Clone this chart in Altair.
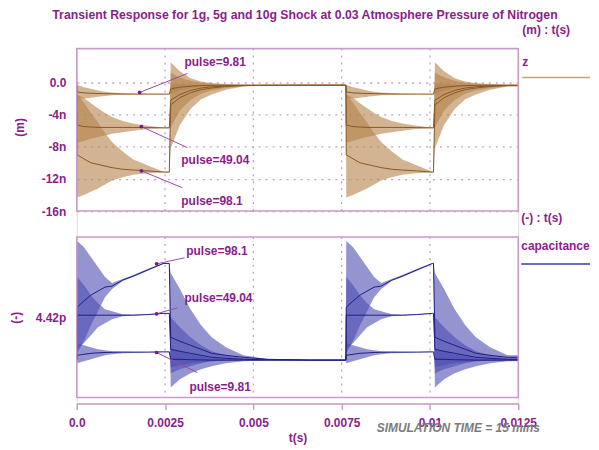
import altair as alt
import pandas as pd

TITLE = "Transient Response for 1g, 5g and 10g Shock at 0.03 Atmosphere Pressure of Nitrogen"
PULSES = ["9.81", "49.04", "98.1"]
X_TICKS = [0.0, 0.0025, 0.005, 0.0075, 0.01, 0.0125]
X_GRID = [0.0025, 0.005, 0.0075, 0.01]
SHOCK_ON = [0.0, 0.00762]
SHOCK_OFF = [0.00262, 0.0101]
T_END = 0.0125

# profile times relative to shock start / release
DEF_T = [0, 0.00001, 0.0002, 0.0004, 0.0006, 0.0008, 0.0010, 0.0013, 0.0016, 0.0020, 0.00245]
REL_T = [0, 0.00004, 0.0003, 0.0006, 0.0009, 0.0012, 0.0016, 0.0021, 0.0028, 0.0040]

# displacement z (n m) : envelope high / low and centre during shock
Z_DEF_HI = {
    "9.81": [-0.35, -0.3, -0.6, -0.8, -1.0, -1.15, -1.25, -1.35, -1.4, -1.43, -1.45],
    "49.04": [-0.35, -1.5, -1.9, -2.6, -3.2, -3.8, -4.3, -4.8, -5.1, -5.4, -5.6],
    "98.1": [-0.35, -1.5, -2.5, -3.8, -5.0, -6.3, -7.4, -8.6, -9.6, -10.3, -11.1],
}
Z_DEF_LO = {
    "9.81": [-0.35, -2.0, -2.0, -1.9, -1.8, -1.7, -1.6, -1.55, -1.5, -1.48, -1.47],
    "49.04": [-0.35, -7.5, -7.3, -7.0, -6.8, -6.6, -6.4, -6.2, -6.0, -5.8, -5.7],
    "98.1": [-0.35, -14.3, -14.0, -13.6, -13.2, -12.7, -12.2, -11.8, -11.5, -11.3, -11.2],
}
Z_DEF_MID = {
    "9.81": [-0.35, -1.2, -1.3, -1.35, -1.38, -1.4, -1.42, -1.44, -1.45, -1.45, -1.46],
    "49.04": [-0.35, -5.3, -5.5, -5.55, -5.6, -5.6, -5.6, -5.6, -5.6, -5.62, -5.65],
    "98.1": [-0.35, -9.0, -9.5, -10.0, -10.2, -10.4, -10.6, -10.8, -10.9, -11.0, -11.15],
}
# displacement z after release
Z_REL_HI = {
    "9.81": [-1.46, -0.1, -0.2, -0.25, -0.3, -0.32, -0.34, -0.35, -0.35, -0.35],
    "49.04": [-5.65, 1.2, 0.6, 0.2, -0.05, -0.15, -0.25, -0.3, -0.34, -0.35],
    "98.1": [-11.15, 2.5, 1.4, 0.5, 0.1, -0.1, -0.2, -0.3, -0.34, -0.35],
}
Z_REL_LO = {
    "9.81": [-1.46, -1.5, -1.0, -0.7, -0.5, -0.42, -0.37, -0.35, -0.35, -0.35],
    "49.04": [-5.65, -5.6, -3.5, -2.2, -1.4, -1.0, -0.7, -0.45, -0.37, -0.35],
    "98.1": [-11.15, -8.2, -5.3, -3.3, -2.1, -1.5, -0.9, -0.5, -0.38, -0.35],
}
Z_REL_MID = {
    "9.81": [-1.46, -0.8, -0.6, -0.47, -0.4, -0.37, -0.355, -0.35, -0.35, -0.35],
    "49.04": [-5.65, -2.2, -1.5, -1.0, -0.7, -0.55, -0.45, -0.38, -0.355, -0.35],
    "98.1": [-11.15, -2.8, -1.9, -1.3, -0.9, -0.7, -0.5, -0.4, -0.36, -0.35],
}

# capacitance (p F) during shock
C_DEF_HI = {
    "9.81": [4.3986, 4.407, 4.406, 4.405, 4.404, 4.4035, 4.403, 4.4028, 4.4027, 4.4027, 4.4028],
    "49.04": [4.3986, 4.440, 4.436, 4.431, 4.427, 4.424, 4.423, 4.4215, 4.4212, 4.4215, 4.422],
    "98.1": [4.3986, 4.458, 4.455, 4.450, 4.445, 4.440, 4.437, 4.439, 4.441, 4.444, 4.447],
}
C_DEF_LO = {
    "9.81": [4.3986, 4.397, 4.398, 4.399, 4.400, 4.401, 4.4015, 4.402, 4.4022, 4.4025, 4.4026],
    "49.04": [4.3986, 4.404, 4.407, 4.411, 4.415, 4.417, 4.419, 4.4205, 4.4208, 4.4212, 4.4218],
    "98.1": [4.3986, 4.402, 4.408, 4.416, 4.423, 4.430, 4.434, 4.438, 4.440, 4.443, 4.4465],
}
C_DEF_MID = {
    "9.81": [4.3986, 4.401, 4.4015, 4.402, 4.4022, 4.4024, 4.4025, 4.4026, 4.4026, 4.4026, 4.4027],
    "49.04": [4.3986, 4.421, 4.421, 4.421, 4.421, 4.421, 4.421, 4.421, 4.421, 4.4213, 4.4219],
    "98.1": [4.3986, 4.425, 4.428, 4.431, 4.433, 4.435, 4.4355, 4.4385, 4.4405, 4.4435, 4.4468],
}
# capacitance after release
C_REL_HI = {
    "9.81": [4.4027, 4.404, 4.403, 4.4015, 4.4005, 4.3995, 4.399, 4.3987, 4.3986, 4.3986],
    "49.04": [4.4219, 4.420, 4.415, 4.410, 4.406, 4.403, 4.401, 4.3995, 4.399, 4.3986],
    "98.1": [4.4468, 4.442, 4.434, 4.424, 4.416, 4.410, 4.405, 4.401, 4.399, 4.3986],
}
C_REL_LO = {
    "9.81": [4.4027, 4.395, 4.396, 4.397, 4.3975, 4.398, 4.3984, 4.3985, 4.3986, 4.3986],
    "49.04": [4.4219, 4.392, 4.394, 4.3955, 4.397, 4.398, 4.3983, 4.3985, 4.3985, 4.3986],
    "98.1": [4.4468, 4.385, 4.389, 4.392, 4.394, 4.3955, 4.397, 4.398, 4.3985, 4.3986],
}
C_REL_MID = {
    "9.81": [4.4027, 4.399, 4.399, 4.3988, 4.3987, 4.3986, 4.3986, 4.3986, 4.3986, 4.3986],
    "49.04": [4.4219, 4.404, 4.403, 4.402, 4.401, 4.400, 4.3995, 4.399, 4.3987, 4.3986],
    "98.1": [4.4468, 4.410, 4.408, 4.406, 4.404, 4.402, 4.401, 4.400, 4.399, 4.3986],
}

# annotations: label, text position (t, value), arrow from (t, value) to (t, value)
Z_NOTE_TEXT = ["pulse=9.81", "pulse=49.04", "pulse=98.1"]
Z_NOTE_T = [0.00305, 0.00296, 0.00296]
Z_NOTE_V = [2.1, -10.1, -15.2]
Z_ARROW_T0 = [0.00313, 0.00313, 0.00299]
Z_ARROW_V0 = [1.1, -8.1, -13.1]
Z_ARROW_T1 = [0.00178, 0.00183, 0.00183]
Z_ARROW_V1 = [-1.25, -5.5, -11.0]

C_NOTE_TEXT = ["pulse=98.1", "pulse=49.04", "pulse=9.81"]
C_NOTE_T = [0.0031, 0.00305, 0.00319]
C_NOTE_V = [4.451, 4.4277, 4.383]
C_ARROW_T0 = [0.00305, 0.00285, 0.00341]
C_ARROW_V0 = [4.4496, 4.4247, 4.3924]
C_ARROW_T1 = [0.00226, 0.00226, 0.00226]
C_ARROW_V1 = [4.4466, 4.4217, 4.4024]

# ---------------------------------------------------------------- styling
FONT = "Liberation Sans"
PURPLE = "#8b1c8b"
FRAME = "#c79bc9"
GRID = "#c7a0c7"
BROWN_FILL = "#b4824a"
BROWN_LINE = "#8a5726"
BLUE_FILL = "#4d4db0"
BLUE_LINE = "#1e1e86"
W, H = 443, 356
TOP_Y0, TOP_Y1 = 0, 163
BOT_Y0, BOT_Y1 = 189, 350


def build(def_hi, def_lo, def_mid, rel_hi, rel_lo, rel_mid):
    rows = []
    ends = SHOCK_ON[1:] + [T_END]
    for on, off, nxt in zip(SHOCK_ON, SHOCK_OFF, ends):
        for rt, h, l, m in zip(DEF_T, def_hi, def_lo, def_mid):
            rows.append((on + rt, h, l, m))
        rows.append((off, def_hi[-1], def_lo[-1], def_mid[-1]))
        for rt, h, l, m in zip(REL_T, rel_hi, rel_lo, rel_mid):
            if off + rt <= nxt:
                rows.append((off + rt, h, l, m))
        last = rows[-1]
        rows.append((nxt, last[1], last[2], last[3]))
    return rows


def frame(series_hi, series_lo, series_mid, rser_hi, rser_lo, rser_mid):
    recs = []
    for p in PULSES:
        rows = build(series_hi[p], series_lo[p], series_mid[p], rser_hi[p], rser_lo[p], rser_mid[p])
        for i, (t, h, l, m) in enumerate(rows):
            recs.append({"pulse": p, "i": i, "t": t, "hi": h, "lo": l, "mid": m})
    return pd.DataFrame(recs)


z_df = frame(Z_DEF_HI, Z_DEF_LO, Z_DEF_MID, Z_REL_HI, Z_REL_LO, Z_REL_MID)
c_df = frame(C_DEF_HI, C_DEF_LO, C_DEF_MID, C_REL_HI, C_REL_LO, C_REL_MID)

X_SCALE = alt.Scale(domain=[0, 0.0125], nice=False, zero=False)
X_AXIS = alt.Axis(
    values=X_TICKS, labelExpr="datum.value == 0 ? '0.0' : '' + datum.value",
    title="t(s)", grid=False, domainColor=FRAME, domainWidth=1.5, tickColor=FRAME,
    tickWidth=1.5, tickSize=6, labelPadding=8, labelFlush=False, labelFont=FONT,
    labelFontSize=12, labelFontWeight="bold", labelColor=PURPLE, titleFont=FONT,
    titleFontSize=12, titleFontWeight="bold", titleColor=PURPLE, titlePadding=4,
)
X = alt.X("t:Q", scale=X_SCALE, axis=X_AXIS)

Z_SCALE = alt.Scale(domain=[-16, 4.2], range=[TOP_Y1, TOP_Y0], nice=False, zero=False)
C_SCALE = alt.Scale(domain=[4.38, 4.46], range=[BOT_Y1, BOT_Y0], nice=False, zero=False)

Y_AXIS_COMMON = dict(
    orient="left", offset=0, domain=False, ticks=False, labelPadding=11,
    labelFont=FONT, labelFontSize=12, labelFontWeight="bold", labelColor=PURPLE,
    gridColor=GRID, gridDash=[2, 5], gridWidth=1.3, title=None,
)
Z_AXIS = alt.Axis(values=[0, -4, -8, -12, -16],
                  labelExpr="datum.value == 0 ? '0.0' : datum.value + 'n'", **Y_AXIS_COMMON)
C_AXIS = alt.Axis(values=[4.40, 4.42, 4.44],
                  labelExpr="datum.value == 4.42 ? '4.42p' : ''", **Y_AXIS_COMMON)

one = pd.DataFrame({"k": [0]})
grid_df = pd.DataFrame({"t": X_GRID})

layers = []

# vertical grid lines per panel
for y0, y1 in [(TOP_Y0, TOP_Y1), (BOT_Y0, BOT_Y1)]:
    layers.append(alt.Chart(grid_df).mark_rule(color=GRID, strokeDash=[2, 5], strokeWidth=1.3).encode(
        x=X, y=alt.value(y0), y2=alt.value(y1)))

# z panel
layers.append(alt.Chart(z_df).mark_area(color=BROWN_FILL, fillOpacity=0.6, orient="vertical").encode(
    x=X, y=alt.Y("lo:Q", scale=Z_SCALE, axis=Z_AXIS, stack=None), y2=alt.Y2("hi:Q"),
    detail="pulse:N"))
layers.append(alt.Chart(z_df).mark_line(color=BROWN_LINE, strokeWidth=1).encode(
    x=X, y=alt.Y("mid:Q", scale=Z_SCALE, axis=None), detail="pulse:N", order="i:Q"))

# capacitance panel
layers.append(alt.Chart(c_df).mark_area(color=BLUE_FILL, fillOpacity=0.6, orient="vertical").encode(
    x=X, y=alt.Y("lo:Q", scale=C_SCALE, axis=C_AXIS, stack=None), y2=alt.Y2("hi:Q"),
    detail="pulse:N"))
layers.append(alt.Chart(c_df).mark_line(color=BLUE_LINE, strokeWidth=1).encode(
    x=X, y=alt.Y("mid:Q", scale=C_SCALE, axis=None), detail="pulse:N", order="i:Q"))

# frames
for y0, y1 in [(TOP_Y0, TOP_Y1), (BOT_Y0, BOT_Y1)]:
    layers.append(alt.Chart(one).mark_rect(fillOpacity=0, stroke=FRAME, strokeWidth=1.5).encode(
        x=alt.value(0), x2=alt.value(W), y=alt.value(y0), y2=alt.value(y1)))

# annotations
z_notes = pd.DataFrame({"label": Z_NOTE_TEXT, "t": Z_NOTE_T, "v": Z_NOTE_V,
                        "t0": Z_ARROW_T0, "v0": Z_ARROW_V0, "t1": Z_ARROW_T1, "v1": Z_ARROW_V1})
c_notes = pd.DataFrame({"label": C_NOTE_TEXT, "t": C_NOTE_T, "v": C_NOTE_V,
                        "t0": C_ARROW_T0, "v0": C_ARROW_V0, "t1": C_ARROW_T1, "v1": C_ARROW_V1})
for notes, sc in [(z_notes, Z_SCALE), (c_notes, C_SCALE)]:
    layers.append(alt.Chart(notes).mark_rule(color="#9a4aa8", strokeWidth=1).encode(
        x=alt.X("t0:Q", scale=X_SCALE, axis=X_AXIS), x2="t1:Q",
        y=alt.Y("v0:Q", scale=sc, axis=None), y2="v1:Q"))
    layers.append(alt.Chart(notes).mark_circle(color="#7a1a8a", size=14, opacity=1).encode(
        x=alt.X("t1:Q", scale=X_SCALE, axis=X_AXIS), y=alt.Y("v1:Q", scale=sc, axis=None)))
    layers.append(alt.Chart(notes).mark_text(font=FONT, fontSize=12, fontWeight="bold", color=PURPLE,
                                             align="left", baseline="alphabetic").encode(
        x=alt.X("t:Q", scale=X_SCALE, axis=X_AXIS), y=alt.Y("v:Q", scale=sc, axis=None), text="label:N"))


def label(text, x, y, size=12, align="left", color=PURPLE, angle=0, style="normal"):
    return alt.Chart(one).mark_text(text=text, font=FONT, fontSize=size, fontWeight="bold",
                                    fontStyle=style, color=color, align=align,
                                    baseline="alphabetic", angle=angle).encode(
        x=alt.value(x), y=alt.value(y))


layers += [
    label(TITLE, 229, -30, size=12.3, align="center"),
    label("(m) : t(s)", 495, -15, align="right"),
    label("z", 447, 17),
    label("(-) : t(s)", 446, 174),
    label("capacitance", 446, 202),
    label("(m)", -53, 79, align="center", angle=270),
    label("(-)", -57, 270, align="center", angle=270),
    label("SIMULATION  TIME = 15 mins", 301, 385, color="#7b7b7b", style="italic"),
]

# legend swatches
layers.append(alt.Chart(one).mark_rule(color="#c4a27e", strokeWidth=1.5).encode(
    x=alt.value(447), x2=alt.value(515), y=alt.value(29)))
layers.append(alt.Chart(one).mark_rule(color="#3b3b9a", strokeWidth=1.5).encode(
    x=alt.value(446), x2=alt.value(515), y=alt.value(216)))

chart = alt.layer(*layers).resolve_scale(y="independent").properties(
    width=W, height=H,
    autosize=alt.AutoSizeParams(type="none"),
    padding={"left": 69, "top": 40, "right": 73, "bottom": 46},
).configure_view(stroke=None).configure(background="white")

chart.save("out.html", embed_options={"renderer": "svg", "actions": False})
